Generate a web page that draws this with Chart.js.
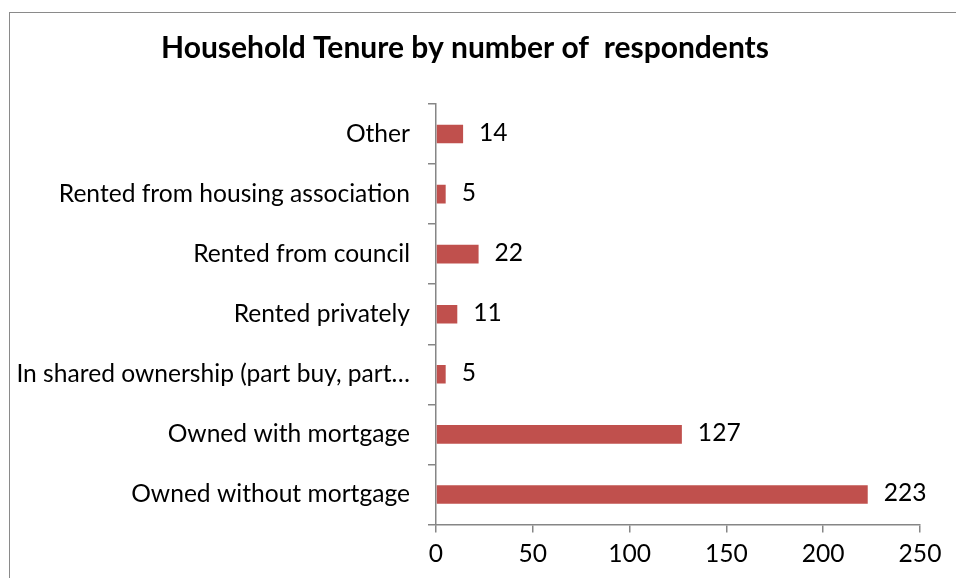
<!DOCTYPE html>
<html>
<head>
<meta charset="utf-8">
<script src="https://cdn.jsdelivr.net/npm/chart.js@4"></script>
<style>
  html, body { margin: 0; padding: 0; background: #fff; overflow: hidden; }
  #wrap { position: relative; width: 956px; height: 578px; }
  #frame { position: absolute; left: 9px; top: 12px; width: 1000px; height: 1000px; border: 1px solid #8a8a8a; box-sizing: border-box; }
  canvas { position: absolute; left: 0; top: 0; }
</style>
</head>
<body>
<div id="wrap">
  <div id="frame"></div>
  <canvas id="tenureChart" width="956" height="578"></canvas>
</div>
<script>
// Tenure categories, listed top to bottom
const categories = [
  'Other',
  'Rented from housing association',
  'Rented from council',
  'Rented privately',
  'In shared ownership (part buy, part\u2026',
  'Owned with mortgage',
  'Owned without mortgage'
];
const respondents = [14, 5, 22, 11, 5, 127, 223];
const xTicks = [0, 50, 100, 150, 200, 250];

const FONT = 'Lato, "Open Sans", sans-serif';
const TEXT_SIZE = 24.6;
const AXIS_GREY = '#868686';

// writes the count to the right of each bar
const valueLabels = {
  id: 'valueLabels',
  afterDatasetsDraw(chart) {
    const ctx = chart.ctx;
    const meta = chart.getDatasetMeta(0);
    ctx.save();
    ctx.font = TEXT_SIZE + 'px ' + FONT;
    ctx.fillStyle = '#000';
    ctx.textAlign = 'left';
    ctx.textBaseline = 'middle';
    meta.data.forEach((bar, i) => {
      ctx.fillText(String(respondents[i]), bar.x + 16, bar.y - 1);
    });
    ctx.restore();
  }
};

new Chart(document.getElementById('tenureChart'), {
  type: 'bar',
  data: {
    labels: categories,
    datasets: [{
      data: respondents,
      backgroundColor: '#C0504D',
      borderWidth: 0,
      barPercentage: 0.62,
      categoryPercentage: 0.5
    }]
  },
  options: {
    indexAxis: 'y',
    responsive: false,
    animation: false,
    layout: { padding: { left: 10, right: 36, top: 0, bottom: 2 } },
    plugins: {
      legend: { display: false },
      tooltip: { enabled: false },
      title: {
        display: true,
        text: 'Household Tenure by number of  respondents',
        color: '#000',
        font: { family: FONT, size: 30, weight: 'bold' },
        padding: { top: 30, bottom: 38 }
      }
    },
    scales: {
      x: {
        min: 0,
        max: 250,
        afterBuildTicks(axis) { axis.ticks = xTicks.map(v => ({ value: v })); },
        border: { display: true, color: AXIS_GREY, width: 1.5 },
        grid: { drawOnChartArea: false, drawTicks: true, tickLength: 8, color: AXIS_GREY, lineWidth: 1.5 },
        ticks: { color: '#000', padding: 7, font: { family: FONT, size: TEXT_SIZE } }
      },
      y: {
        afterFit(axis) { axis.width = 426; },
        border: { display: true, color: AXIS_GREY, width: 1.5 },
        grid: { drawOnChartArea: false, drawTicks: true, tickLength: 8, color: AXIS_GREY, lineWidth: 1.5, offset: true },
        ticks: { color: '#000', padding: 18, autoSkip: false, font: { family: FONT, size: TEXT_SIZE } }
      }
    }
  },
  plugins: [valueLabels]
});
</script>
</body>
</html>
